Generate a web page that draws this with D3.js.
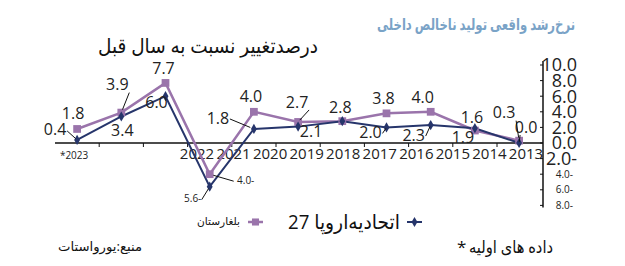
<!DOCTYPE html>
<html>
<head>
<meta charset="utf-8">
<script src="https://cdn.jsdelivr.net/npm/d3@7"></script>
<style>
    body { margin: 0; background: #fff; }
    text { font-family: "Open Sans", "DejaVu Sans", sans-serif; }
</style>
</head>
<body>
<div id="chart"></div>
<script>
    // years run right-to-left: 2023 sits at the left edge
    var years = ["2023", "2022", "2021", "2020", "2019", "2018", "2017", "2016", "2015", "2014", "2013"];
    var tickLabels = ["2022", "2021", "2020", "2019", "2018", "2017", "2016", "2015", "2014", "2013"];
    var euValues = [0.4, 3.4, 6.0, -5.6, 1.8, 2.1, 2.8, 2.0, 2.3, 1.9, 0.0];
    var bgValues = [1.8, 3.9, 7.7, -4.0, 4.0, 2.7, 2.8, 3.8, 4.0, 1.6, 0.3];
    var yTicks = [10, 8, 6, 4, 2, 0, -2, -4, -6, -8];

    var title = "نرخ‌رشد واقعی تولید ناخالص داخلی";
    var subtitle = "درصدتغییر نسبت به سال قبل";
    var euName = "اتحادیه‌اروپا 27";
    var bgName = "بلغارستان";
    var noteText = "داده های اولیه";
    var sourceText = "منبع:یورواستات";

    // label placement around each point [dx, dy, leader?]
    var euLabelPos = [[-22, -10, 1], [1, 14, 0], [-9, 6, 0], [-17, 12, 1], [-36, -11, 1], [13, 5, 0],
                      null, [-16, 5, 1], [-17, 10, 1], [-12, 9, 0], [7, -16, 1]];
    var bgLabelPos = [[-4, -16, 0], [-4, -28, 1], [-2, -15, 0], [36, 6, 1], [-3, -15, 0], [-1, -20, 1],
                      [-2, -14, 0], [-3, -15, 0], [-8, -14, 0], [-3, -13, 0], [-15, -28, 1]];

    var EU_COLOR = "#26356b";
    var BG_COLOR = "#9a74ab";
    var W = 625, H = 266;

    var svg = d3.select("#chart").append("svg")
        .attr("width", W)
        .attr("height", H);

    var x = d3.scaleBand().domain(years).range([55, 541.2]);
    var xLab = d3.scalePoint().domain(tickLabels).range([197, 526]);
    var y = d3.scaleLinear().domain([-8, 10]).range([205.4, 65]);
    var cx = function(d, i) { return x(years[i]) + x.bandwidth() / 2; };

    function fmt(v) {
        return v < 0 ? Math.abs(v).toFixed(1) + "-" : v.toFixed(1);
    }

    // right-aligned persian text, squeezed to the width it has in the original
    function farsi(txt, right, base, size, width, color, weight) {
        return svg.append("text")
            .attr("x", right - width).attr("y", base)
            .attr("text-anchor", "start")
            .attr("font-size", size)
            .attr("font-weight", weight || 400)
            .attr("fill", color)
            .attr("textLength", width)
            .attr("lengthAdjust", "spacingAndGlyphs")
            .text(txt);
    }

    // titles
    farsi(title, 575, 30, 16, 198, "#7aa3c7", 600);
    farsi(subtitle, 318, 53, 20, 220, "#111");

    // x axis
    var xAxis = svg.append("g");
    xAxis.append("line")
        .attr("x1", 55).attr("x2", 543)
        .attr("y1", y(0)).attr("y2", y(0))
        .attr("stroke", "#111").attr("stroke-width", 1.5);

    xAxis.selectAll(".tick")
        .data(years.slice(1))
        .enter().append("line")
        .attr("x1", function(d) { return x(d); })
        .attr("x2", function(d) { return x(d); })
        .attr("y1", y(0)).attr("y2", y(0) + 4)
        .attr("stroke", "#111");

    xAxis.append("text")
        .attr("x", x(years[0]) + x.bandwidth() / 2 - 3)
        .attr("y", y(0) + 16)
        .attr("text-anchor", "middle")
        .attr("font-size", 10)
        .attr("fill", "#222")
        .text("*" + years[0]);

    xAxis.selectAll(".xlab")
        .data(tickLabels)
        .enter().append("text")
        .attr("x", function(d) { return xLab(d); })
        .attr("y", y(0) + 16)
        .attr("text-anchor", "middle")
        .attr("font-size", 15)
        .attr("fill", "#222")
        .text(function(d) { return d; });

    // y axis on the right
    var yAxis = svg.append("g");
    yAxis.append("line")
        .attr("x1", 543).attr("x2", 543)
        .attr("y1", y(10) - 4).attr("y2", y(-8) + 2)
        .attr("stroke", "#111").attr("stroke-width", 1.5);

    yAxis.selectAll(".ytick")
        .data(yTicks)
        .enter().append("line")
        .attr("x1", 540).attr("x2", 543)
        .attr("y1", function(d) { return y(d); })
        .attr("y2", function(d) { return y(d); })
        .attr("stroke", "#111");

    yAxis.selectAll(".ylab")
        .data(yTicks)
        .enter().append("text")
        .attr("x", function(d) { return d >= -2 ? 577 : 573; })
        .attr("y", function(d) { return y(d); })
        .attr("dy", "0.35em")
        .attr("text-anchor", "end")
        .attr("font-size", function(d) { return d >= -2 ? 18 : 10; })
        .attr("fill", "#222")
        .text(fmt);

    // series
    var line = d3.line()
        .x(cx)
        .y(function(d) { return y(d); });

    svg.append("path")
        .datum(bgValues)
        .attr("d", line)
        .attr("fill", "none")
        .attr("stroke", BG_COLOR)
        .attr("stroke-width", 2.5);

    svg.append("path")
        .datum(euValues)
        .attr("d", line)
        .attr("fill", "none")
        .attr("stroke", EU_COLOR)
        .attr("stroke-width", 2);

    svg.selectAll(".bgpt")
        .data(bgValues)
        .enter().append("path")
        .attr("transform", function(d, i) { return "translate(" + cx(d, i) + "," + y(d) + ")"; })
        .attr("d", d3.symbol(d3.symbolSquare, 60))
        .attr("fill", BG_COLOR);

    svg.selectAll(".eupt")
        .data(euValues)
        .enter().append("path")
        .attr("transform", function(d, i) { return "translate(" + cx(d, i) + "," + y(d) + ")"; })
        .attr("d", d3.symbol(d3.symbolDiamond, 30))
        .attr("fill", EU_COLOR);

    // value labels with their small leader lines
    function drawLabels(values, pos) {
        values.forEach(function(v, i) {
            var p = pos[i];
            if (!p) return;
            var px = cx(v, i), py = y(v);
            var lx = px + p[0], ly = py + p[1];
            var small = v < -2;
            if (p[2]) {
                var sx = lx + (p[0] < 0 ? (small ? 9 : 12) : (p[0] > 20 ? -12 : -6));
                var sy = ly + (Math.abs(p[1]) > 12 && Math.abs(p[0]) < 20 ? (p[1] < 0 ? 8 : -8) : 1);
                svg.append("path")
                    .attr("d", "M" + sx + "," + sy + "L" + (px + (sx - px) * 0.15) + "," + (py + (sy - py) * 0.15))
                    .attr("stroke", "#111")
                    .attr("stroke-width", 1)
                    .attr("fill", "none");
            }
            svg.append("text")
                .attr("x", lx).attr("y", ly)
                .attr("dy", "0.35em")
                .attr("text-anchor", "middle")
                .attr("font-size", small ? 10 : 16)
                .attr("fill", "#222")
                .text(fmt(v));
        });
    }
    drawLabels(euValues, euLabelPos);
    drawLabels(bgValues, bgLabelPos);

    // legend
    var legend = svg.append("g");
    legend.append("line")
        .attr("x1", 407).attr("x2", 422).attr("y1", 222).attr("y2", 222)
        .attr("stroke", EU_COLOR).attr("stroke-width", 2);
    legend.append("path")
        .attr("transform", "translate(414.5,222)")
        .attr("d", d3.symbol(d3.symbolDiamond, 30))
        .attr("fill", EU_COLOR);
    farsi(euName, 400, 229, 20, 112, "#111");

    legend.append("line")
        .attr("x1", 248).attr("x2", 263).attr("y1", 222).attr("y2", 222)
        .attr("stroke", BG_COLOR).attr("stroke-width", 2.5);
    legend.append("path")
        .attr("transform", "translate(255.5,222)")
        .attr("d", d3.symbol(d3.symbolSquare, 50))
        .attr("fill", BG_COLOR);
    farsi(bgName, 240, 225, 11, 43, "#111");

    // footer: the star of the note sits on its left
    svg.append("text")
        .attr("x", 457).attr("y", 253)
        .attr("font-size", 17).attr("fill", "#111")
        .text("*");
    farsi(noteText, 553, 253, 17, 84, "#111");
    farsi(sourceText, 142, 251, 13, 84, "#111");
</script>
</body>
</html>
